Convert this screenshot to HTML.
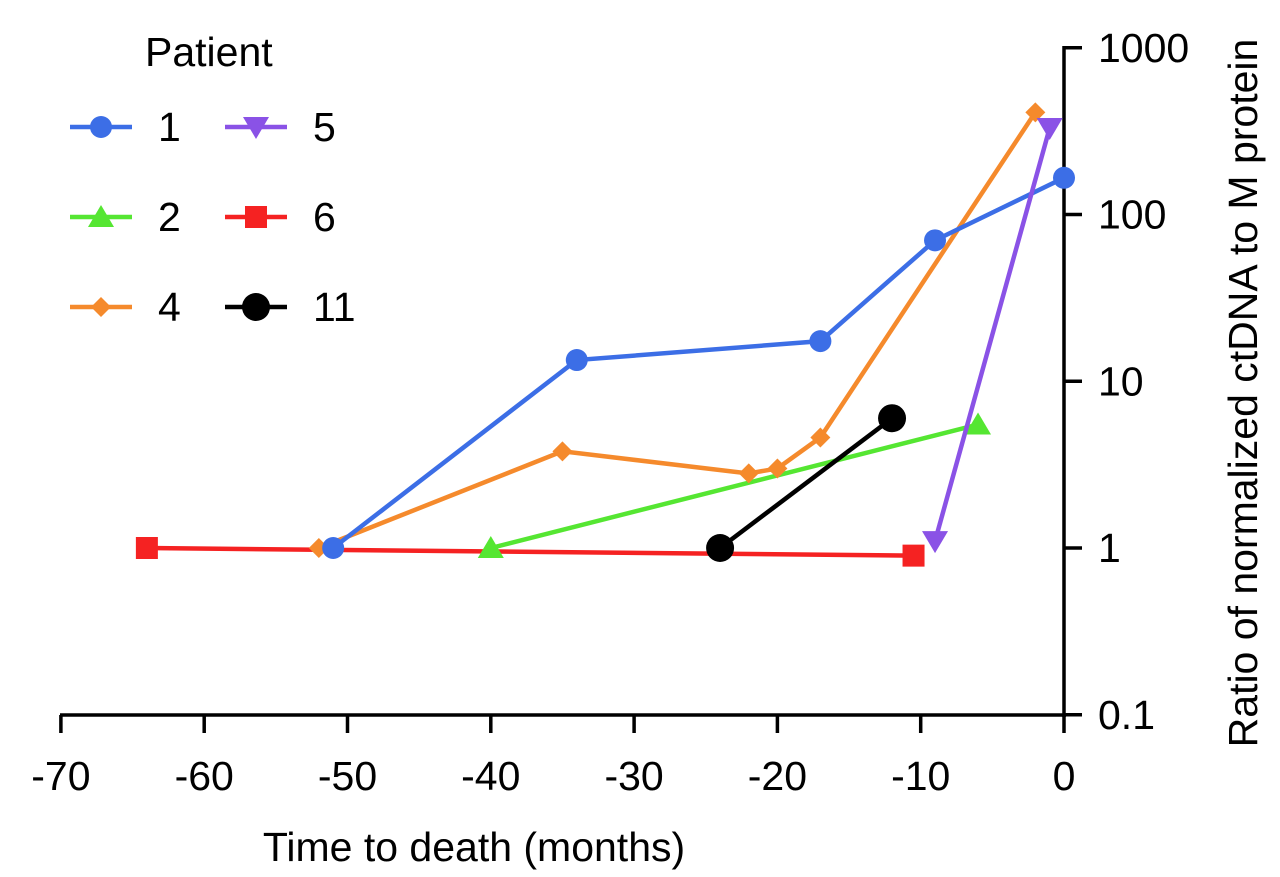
<!DOCTYPE html>
<html><head><meta charset="utf-8"><style>
body{margin:0;background:#fff;}
svg text{font-family:"Liberation Sans",sans-serif;fill:#000;}
</style></head><body>
<svg id="chart" width="1280" height="872" viewBox="0 0 1280 872" xmlns="http://www.w3.org/2000/svg">
<g id="axes"></g><g id="series"></g><g id="legend"></g>
</svg>
<script>
const xTicks=[-70,-60,-50,-40,-30,-20,-10,0];
const yTicks=[0.1,1,10,100,1000];
const yTickLabels=["0.1","1","10","100","1000"];
const p1x=[-51,-34,-17,-9,0], p1y=[1,13.4,17.4,70,166];
const p2x=[-40,-6], p2y=[1,5.5];
const p4x=[-52,-35,-22,-20,-17,-2], p4y=[1,3.8,2.8,3.0,4.6,410];
const p5x=[-9,-1], p5y=[1.1,330];
const p6x=[-64,-10.5], p6y=[1,0.9];
const p11x=[-24,-12], p11y=[1,6.0];
const NS="http://www.w3.org/2000/svg";
const FS=41;
function X(v){return 1064+v*14.33;}
function Y(v){return 548-Math.log10(v)*166.75;}
function mk(tag,attrs,parent){const e=document.createElementNS(NS,tag);for(const k in attrs)e.setAttribute(k,attrs[k]);parent.appendChild(e);return e;}
const axes=document.getElementById('axes');
let xa=mk('line',{x1:60,y1:715,x2:1066,y2:715,stroke:'#000','stroke-width':3.5},axes);


let ya=mk('line',{x1:1064,y1:46,x2:1064,y2:717,stroke:'#000','stroke-width':3.5},axes);


xTicks.forEach(t=>{
 mk('line',{x1:X(t),y1:715,x2:X(t),y2:733,stroke:'#000','stroke-width':3.5},axes);
 const tx=mk('text',{x:X(t),y:790,'font-size':FS,'text-anchor':'middle'},axes);
 tx.textContent=t;
 
 
});
yTicks.forEach((t,i)=>{
 mk('line',{x1:1064,y1:Y(t),x2:1082,y2:Y(t),stroke:'#000','stroke-width':3.5},axes);
 const tx=mk('text',{x:1098,y:Y(t)+14,'font-size':FS},axes);
 tx.textContent=yTickLabels[i];
 
 
});
let xt=mk('text',{x:474,y:861,'font-size':FS,'text-anchor':'middle'},axes);xt.textContent='Time to death (months)';


let yt=mk('text',{x:1257,y:393,'font-size':FS,'text-anchor':'middle',transform:'rotate(-90 1257 393)'},axes);yt.textContent='Ratio of normalized ctDNA to M protein';


function marker(type,cx,cy,color,parent){
 if(type==='circle')return mk('circle',{cx,cy,r:11,fill:color},parent);
 if(type==='bigcircle')return mk('circle',{cx,cy,r:14,fill:color},parent);
 if(type==='tri')return mk('polygon',{points:`${cx},${cy-12} ${cx-13},${cy+10} ${cx+13},${cy+10}`,fill:color},parent);
 if(type==='itri')return mk('polygon',{points:`${cx},${cy+12} ${cx-13},${cy-10} ${cx+13},${cy-10}`,fill:color},parent);
 if(type==='diamond')return mk('polygon',{points:`${cx},${cy-10} ${cx+10},${cy} ${cx},${cy+10} ${cx-10},${cy}`,fill:color},parent);
 if(type==='square')return mk('rect',{x:cx-11,y:cy-11,width:22,height:22,fill:color},parent);
}
const ser=document.getElementById('series');
function draw(name,xs,ys,color,type){
 const g=mk('g',{},ser);
 
 
 mk('polyline',{points:xs.map((x,i)=>X(x)+','+Y(ys[i])).join(' '),fill:'none',stroke:color,'stroke-width':4.5},g);
 xs.forEach((x,i)=>{const m=marker(type,X(x),Y(ys[i]),color,g);
  
  });
}
draw('series-patient-6',p6x,p6y,'#f52222','square');
draw('series-patient-2',p2x,p2y,'#55e632','tri');
draw('series-patient-4',p4x,p4y,'#f58a2c','diamond');
draw('series-patient-1',p1x,p1y,'#3c6ee6','circle');
draw('series-patient-5',p5x,p5y,'#8a52e6','itri');
draw('series-patient-11',p11x,p11y,'#000','bigcircle');
const lg=document.getElementById('legend');
let lt=mk('text',{x:145,y:66,'font-size':FS},lg);lt.textContent='Patient';


const legItems=[['1','#3c6ee6','circle',70,127],['2','#55e632','tri',70,217],['4','#f58a2c','diamond',70,307],['5','#8a52e6','itri',225,127],['6','#f52222','square',225,217],['11','#000','bigcircle',225,307]];
legItems.forEach(([lab,c,t,x,y])=>{
 const g=mk('g',{},lg);
 
 
 mk('line',{x1:x,y1:y,x2:x+62,y2:y,stroke:c,'stroke-width':4.5},g);
 marker(t,x+31,y,c,g);
 const tx=mk('text',{x:x+88,y:y+14,'font-size':FS},g);tx.textContent=lab;
});
</script>
</body></html>
